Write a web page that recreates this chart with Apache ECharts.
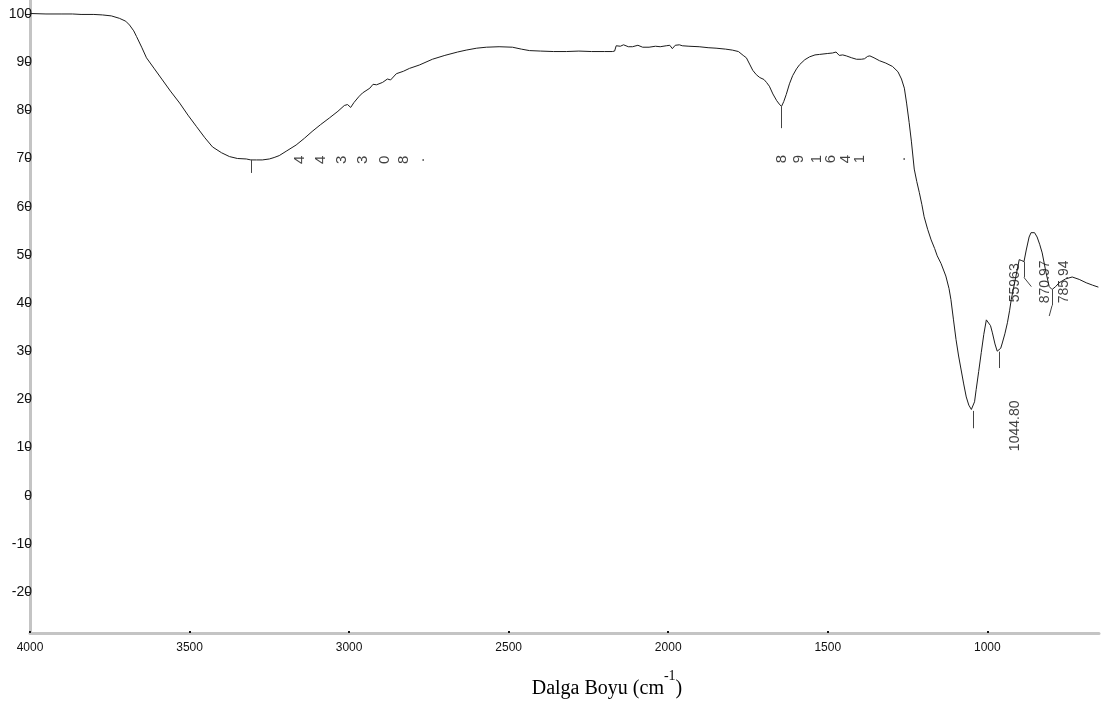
<!DOCTYPE html>
<html>
<head>
<meta charset="utf-8">
<script src="https://cdn.jsdelivr.net/npm/echarts@6/dist/echarts.min.js"></script>
<style>
  html, body { margin: 0; padding: 0; background: #ffffff; }
  #chart { width: 1102px; height: 702px; }
</style>
</head>
<body>
<div id="chart"></div>
<script>
// FTIR spectrum: wavenumber (cm-1) and transmittance (%)
const wavenumber = [
  4000, 3950, 3900, 3867, 3840, 3800, 3773, 3745, 3720, 3700, 3688, 3675, 3666, 3650, 3635,
  3610, 3585, 3560, 3531, 3505, 3478, 3452, 3428, 3400, 3375, 3350, 3322, 3308, 3290, 3272,
  3250, 3235, 3219, 3195, 3166, 3140, 3116, 3090, 3062, 3035, 3015, 3005, 2995, 2985, 2970,
  2958, 2935, 2925, 2914, 2895, 2880, 2870, 2852, 2830, 2811, 2780, 2739, 2700, 2660, 2633,
  2600, 2570, 2530, 2488, 2460, 2435, 2400, 2360, 2319, 2280, 2240, 2200, 2175, 2168, 2163,
  2150, 2140, 2125, 2112, 2095, 2080, 2060, 2040, 2025, 2006, 1995, 1987, 1978, 1965, 1956,
  1935, 1903, 1875, 1850, 1820, 1799, 1780, 1765, 1755, 1745, 1735, 1724, 1713, 1700, 1692,
  1683, 1672, 1660, 1652, 1645, 1638, 1630, 1620, 1610, 1598, 1588, 1572, 1557, 1540, 1526,
  1500, 1485, 1474, 1464, 1453, 1442, 1425, 1410, 1395, 1385, 1375, 1368, 1355, 1338, 1318,
  1297, 1280, 1269, 1260, 1253, 1245, 1238, 1229, 1221, 1213, 1205, 1198, 1187, 1176, 1165,
  1157, 1145, 1130, 1120, 1114, 1106, 1098, 1090, 1082, 1074, 1066, 1058, 1050, 1045, 1040,
  1035, 1027, 1019, 1011, 1003, 997, 990, 984, 976, 969, 963, 958, 953, 945, 937,
  930, 925, 912, 900, 892, 885, 878, 869, 863, 859, 852, 844, 836, 828, 816,
  806, 797, 786, 775, 755, 734, 712, 690, 670, 652
];
const transmittance = [
  100.1, 100.0, 100.0, 100.0, 99.9, 99.9, 99.8, 99.6, 99.1, 98.5, 97.7, 96.5, 95.3, 93.1, 90.9,
  88.6, 86.3, 84.0, 81.5, 79.0, 76.6, 74.3, 72.4, 71.2, 70.4, 70.0, 69.9, 69.7, 69.7, 69.7,
  69.9, 70.2, 70.6, 71.6, 72.8, 74.2, 75.6, 77.0, 78.4, 79.8, 81.0, 81.2, 80.6, 81.6, 82.8,
  83.6, 84.6, 85.4, 85.3, 85.8, 86.5, 86.3, 87.6, 88.1, 88.7, 89.4, 90.6, 91.4, 92.1, 92.5,
  92.9, 93.1, 93.2, 93.1, 92.7, 92.4, 92.3, 92.2, 92.2, 92.3, 92.2, 92.2, 92.2, 92.3, 93.4,
  93.3, 93.6, 93.2, 93.2, 93.5, 93.1, 93.1, 93.3, 93.2, 93.4, 93.5, 92.8, 93.5, 93.6, 93.4,
  93.3, 93.2, 93.0, 92.9, 92.7, 92.5, 92.2, 91.4, 90.9, 89.6, 88.3, 87.4, 86.8, 86.4, 85.8,
  85.0, 83.4, 82.0, 81.3, 80.8, 81.8, 83.3, 85.5, 87.2, 88.6, 89.5, 90.5, 91.1, 91.5, 91.6,
  91.8, 91.9, 92.1, 91.4, 91.5, 91.3, 90.9, 90.6, 90.6, 90.7, 91.2, 91.3, 90.9, 90.3, 89.8,
  89.1, 88.0, 86.5, 84.6, 81.5, 77.5, 73.6, 67.8, 65.2, 62.9, 60.4, 57.9, 55.3, 53.1, 51.3,
  49.8, 48.2, 45.6, 43.0, 40.7, 36.5, 32.4, 29.0, 26.1, 23.2, 20.5, 18.8, 17.9, 17.6, 19.5,
  22.0, 25.8, 29.7, 33.5, 36.5, 36.9, 35.3, 33.8, 31.5, 30.0, 29.9, 30.6, 31.7, 33.6, 35.9,
  38.5, 40.7, 45.0, 49.0, 48.8, 48.6, 51.0, 53.7, 54.6, 54.8, 54.6, 53.7, 52.2, 50.4, 46.3,
  43.4, 42.8, 43.4, 44.2, 45.0, 45.4, 44.9, 44.2, 43.7, 43.3
];

// axis tick values
const xTicks = [4000, 3500, 3000, 2500, 2000, 1500, 1000];
const yTicks = [-20, -10, 0, 10, 20, 30, 40, 50, 60, 70, 80, 90, 100];

// short peak marker lines: [wavenumber, from %T, to %T]
const peakMarks = [
  [3308, 69.7, 67.0],
  [1645, 80.8, 76.3],
  [1045, 17.6, 14.0],
  [963, 29.9, 26.5],
  [885, 48.6, 45.3],
  [797, 42.8, 39.5]
];
// slanted leader segments: [[wn, %T], [wn, %T]]
const leaderSegments = [
  [[885, 45.3], [862, 43.4]],
  [[797, 39.5], [806, 37.3]]
];

// vertical peak labels and their anchors [wavenumber, %T]
const peakTexts = ['1044.80', '55963', '870.97', '785.94'];
const peakTextAnchors = [[913, 14.5], [913, 44.2], [819, 44.4], [760, 44.4]];

// peak labels drawn as separate turned glyphs along a row
const glyphsA = ['4', '4', '3', '3', '0', '8', '.'];
const glyphsAWn = [3154, 3088, 3022, 2957, 2888, 2829, 2778];
const glyphsALevel = 69.7;
const glyphsB = ['8', '9', '1', '6', '4', '1', '.'];
const glyphsBWn = [1643, 1590, 1534, 1490, 1443, 1399, 1271];
const glyphsBLevel = 69.9;

const spectrum = wavenumber.map((w, i) => [w, transmittance[i]]);

const markData = peakMarks.map(m => [{ coord: [m[0], m[1]] }, { coord: [m[0], m[2]] }])
  .concat(leaderSegments.map(s => [{ coord: s[0] }, { coord: s[1] }]));

const glyphData = glyphsA.map((g, i) => [glyphsAWn[i], glyphsALevel, g])
  .concat(glyphsB.map((g, i) => [glyphsBWn[i], glyphsBLevel, g]));

const textData = peakTexts.map((t, i) => [peakTextAnchors[i][0], peakTextAnchors[i][1], t]);

const chart = echarts.init(document.getElementById('chart'), null, { renderer: 'canvas' });

const labelFont = 'Liberation Sans, Arial, sans-serif';

chart.setOption({
  animation: false,
  backgroundColor: '#ffffff',
  grid: { left: 30, right: 3, top: 0, bottom: 69, containLabel: false },
  xAxis: {
    type: 'value',
    inverse: true,
    min: 650,
    max: 4000,
    splitLine: { show: false },
    axisLine: { show: true, onZero: false, lineStyle: { color: '#c4c4c4', width: 3 } },
    axisTick: { show: true, inside: true, length: 2, lineStyle: { color: '#111', width: 2 }, customValues: xTicks },
    axisLabel: {
      customValues: xTicks,
      formatter: v => String(v),
      color: '#111', fontFamily: labelFont, fontSize: 12, margin: 9
    }
  },
  yAxis: {
    type: 'value',
    min: -28.5,
    max: 102.9,
    splitLine: { show: false },
    axisLine: { show: true, onZero: false, lineStyle: { color: '#c4c4c4', width: 3 } },
    axisTick: { show: true, inside: false, length: 4, lineStyle: { color: '#222', width: 1 }, customValues: yTicks },
    axisLabel: {
      customValues: yTicks,
      formatter: v => String(v),
      color: '#111', fontFamily: labelFont, fontSize: 14, margin: -2
    }
  },
  graphic: [{
    type: 'text',
    x: 607,
    y: 684,
    style: {
      text: '{b|Dalga Boyu (cm}{s|-1}{b|)}',
      align: 'center',
      verticalAlign: 'middle',
      fill: '#000',
      rich: {
        b: { fontFamily: 'Liberation Serif, Times New Roman, serif', fontSize: 20, lineHeight: 30, verticalAlign: 'bottom', fill: '#000' },
        s: { fontFamily: 'Liberation Serif, Times New Roman, serif', fontSize: 14, lineHeight: 14, verticalAlign: 'top', fill: '#000' }
      }
    }
  }],
  series: [
    {
      name: 'spectrum',
      type: 'line',
      data: spectrum,
      showSymbol: false,
      symbol: 'none',
      lineStyle: { color: '#1c1c1c', width: 1 },
      silent: true,
      markLine: {
        silent: true,
        symbol: 'none',
        label: { show: false },
        lineStyle: { color: '#444', width: 1, type: 'solid' },
        data: markData
      }
    },
    {
      name: 'peakGlyphs',
      type: 'scatter',
      data: glyphData,
      symbolSize: 1,
      itemStyle: { color: 'rgba(0,0,0,0)' },
      silent: true,
      label: {
        show: true,
        position: 'inside',
        rotate: 90,
        formatter: p => p.data[2],
        color: '#111',
        fontFamily: labelFont,
        fontSize: 15
      }
    },
    {
      name: 'peakTexts',
      type: 'scatter',
      data: textData,
      symbolSize: 1,
      itemStyle: { color: 'rgba(0,0,0,0)' },
      silent: true,
      label: {
        show: true,
        position: 'inside',
        rotate: 90,
        formatter: p => p.data[2],
        color: '#111',
        fontFamily: labelFont,
        fontSize: 14
      }
    }
  ]
});
</script>
</body>
</html>
